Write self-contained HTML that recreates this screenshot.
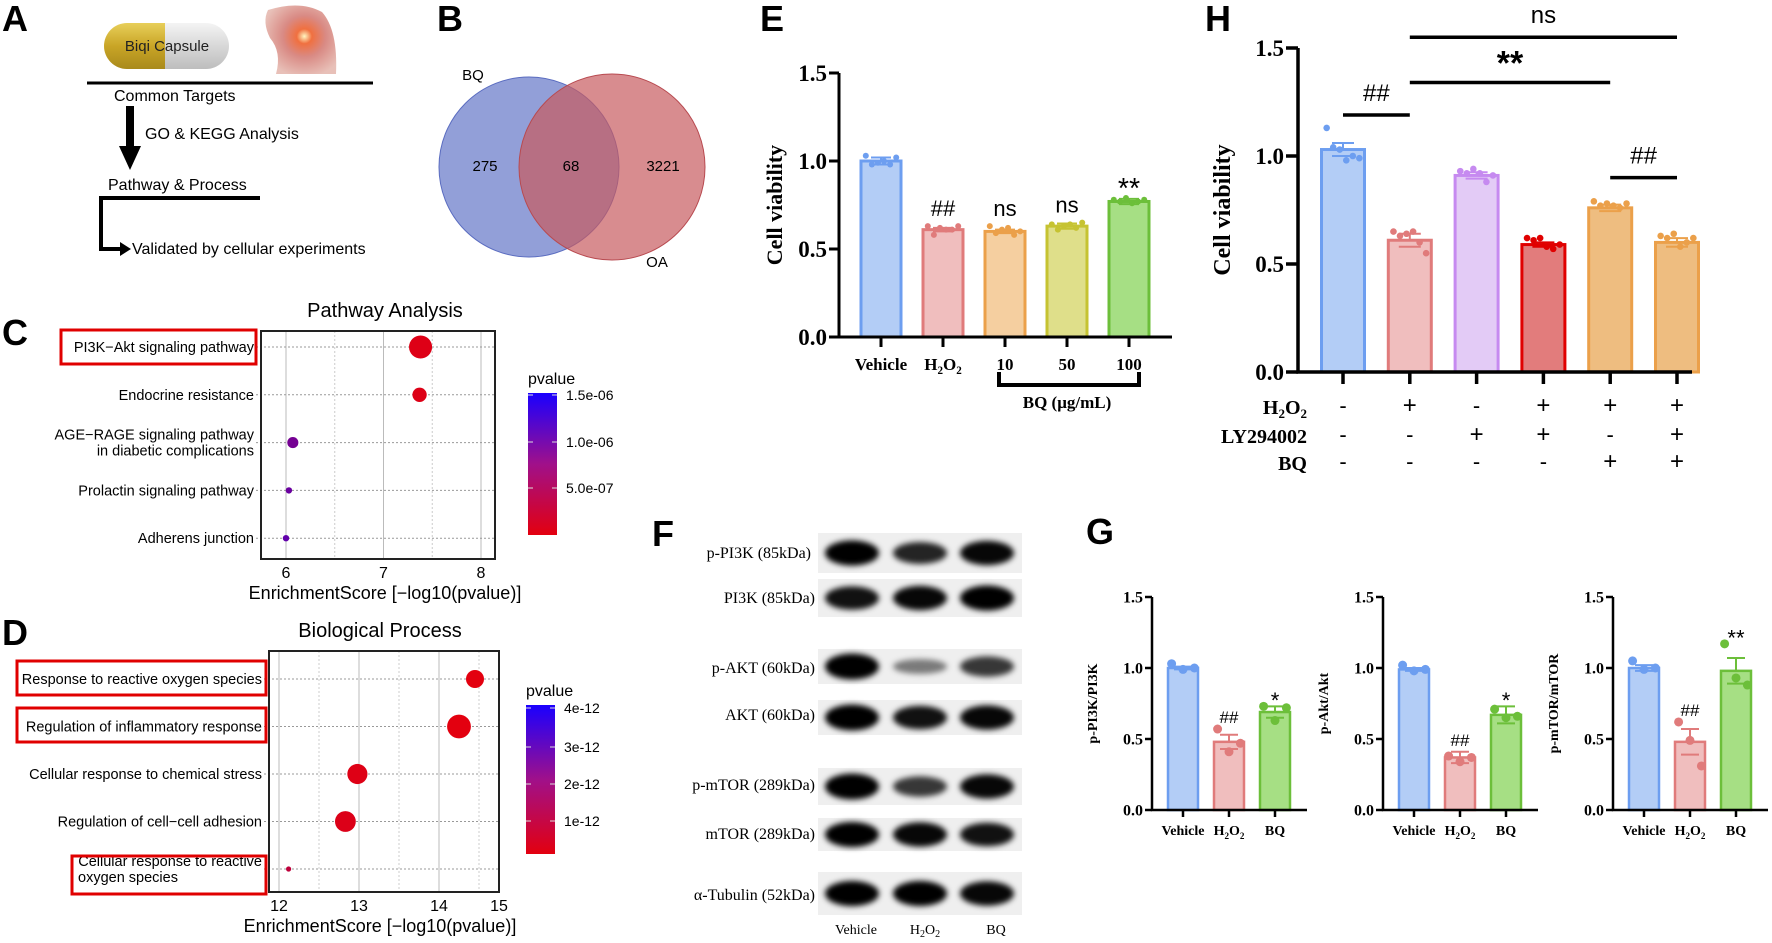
<!DOCTYPE html>
<html><head><meta charset="utf-8">
<style>
html,body{margin:0;padding:0;background:#fff;}
svg{display:block;}
.sans{font-family:"Liberation Sans",Arial,sans-serif;}
.serif{font-family:"Liberation Serif","Times New Roman",serif;}
.lbl{font-family:"Liberation Sans",Arial,sans-serif;font-weight:bold;font-size:36px;}
</style></head>
<body>
<svg id="fig" width="1772" height="943" viewBox="0 0 1772 943" xmlns="http://www.w3.org/2000/svg">
<defs>
<linearGradient id="gold" x1="0" y1="0" x2="0" y2="1"><stop offset="0" stop-color="#e8cf5a"/><stop offset="0.5" stop-color="#c9a526"/><stop offset="1" stop-color="#a98a1c"/></linearGradient>
<linearGradient id="silver" x1="0" y1="0" x2="0" y2="1"><stop offset="0" stop-color="#f4f4f4"/><stop offset="0.5" stop-color="#d8d8d8"/><stop offset="1" stop-color="#bdbdbd"/></linearGradient>
<radialGradient id="knee" cx="0.55" cy="0.45" r="0.6"><stop offset="0" stop-color="#fff6c0"/><stop offset="0.18" stop-color="#f07040"/><stop offset="0.5" stop-color="#d98a84"/><stop offset="1" stop-color="#e8c0b8"/></radialGradient>
<linearGradient id="pbar" x1="0" y1="0" x2="0" y2="1"><stop offset="0" stop-color="#1a00ff"/><stop offset="0.5" stop-color="#a0108a"/><stop offset="1" stop-color="#e3000f"/></linearGradient>
<filter id="blur" x="-20%" y="-60%" width="140%" height="220%"><feGaussianBlur stdDeviation="3"/></filter>
</defs>

<g>
<text class="lbl" x="2" y="31">A</text>
<g>
<path d="M127,23 H165 V69 H127 A23,23 0 0 1 127,23 Z" fill="url(#gold)"/>
<path d="M165,23 H206 A23,23 0 0 1 206,69 H165 Z" fill="url(#silver)"/>
<text class="sans" x="167" y="51" font-size="15" text-anchor="middle" fill="#222">Biqi Capsule</text>
</g>
<g>
<path d="M268,10 Q300,0 322,12 Q338,30 336,74 L276,74 Q282,52 270,38 Q262,22 268,10 Z" fill="url(#knee)"/>
</g>
<line x1="87" y1="83" x2="373" y2="83" stroke="#000" stroke-width="3"/>
<text class="sans" x="114" y="101" font-size="16">Common Targets</text>
<g>
<rect x="126" y="106" width="8" height="42" fill="#000"/>
<polygon points="119,146 141,146 130,170" fill="#000"/>
</g>
<text class="sans" x="145" y="139" font-size="16">GO &amp; KEGG Analysis</text>
<text class="sans" x="108" y="190" font-size="16">Pathway &amp; Process</text>
<g>
<polyline points="260,198 101,198 101,249 122,249" fill="none" stroke="#000" stroke-width="4"/>
<polygon points="120,242 131,249 120,256" fill="#000"/>
</g>
<text class="sans" x="132" y="254" font-size="16">Validated by cellular experiments</text>
</g>

<g>
<text class="lbl" x="437" y="31">B</text>
<circle cx="529" cy="167" r="90" fill="#6e7fcb" fill-opacity="0.75" stroke="#5a6cc0"/>
<circle cx="612" cy="167" r="93" fill="#c85b5f" fill-opacity="0.7" stroke="#b84a50"/>
<text class="sans" x="473" y="80" font-size="15" text-anchor="middle">BQ</text>
<text class="sans" x="657" y="267" font-size="15" text-anchor="middle">OA</text>
<text class="sans" x="485" y="171" font-size="15" text-anchor="middle">275</text>
<text class="sans" x="571" y="171" font-size="15" text-anchor="middle">68</text>
<text class="sans" x="663" y="171" font-size="15" text-anchor="middle">3221</text>
</g>

<text class="lbl" x="2" y="345">C</text>
<text class="lbl" x="2" y="645">D</text>
<text class="lbl" x="760" y="31">E</text>
<text class="lbl" x="652" y="546">F</text>
<text class="lbl" x="1086" y="544">G</text>
<text class="lbl" x="1205" y="31">H</text>

<g class="serif" font-size="16" text-anchor="end">
<text x="811" y="558">p-PI3K (85kDa)</text>
<text x="815" y="603">PI3K (85kDa)</text>
<text x="815" y="673">p-AKT (60kDa)</text>
<text x="815" y="720">AKT (60kDa)</text>
<text x="815" y="790">p-mTOR (289kDa)</text>
<text x="815" y="839">mTOR (289kDa)</text>
<text x="815" y="900">α-Tubulin (52kDa)</text>
</g>
<g id="blots"></g>
<g class="serif" font-size="14" text-anchor="middle">
<text x="856" y="934">Vehicle</text>
<text x="925" y="934">H<tspan font-size="10" dy="3">2</tspan><tspan dy="-3">O</tspan><tspan font-size="10" dy="3">2</tspan></text>
<text x="996" y="934">BQ</text>
</g>

<g id="dyn"></g>
</svg>

<script>
const cTerms = ["PI3K\u2212Akt signaling pathway","Endocrine resistance","AGE\u2212RAGE signaling pathway|in diabetic complications","Prolactin signaling pathway","Adherens junction"];
const cScores = [7.38, 7.37, 6.07, 6.03, 6.0];
const cCounts = [13, 5, 3, 1, 1];
const cPvals = [4.2e-8, 4.3e-8, 8.5e-7, 9.3e-7, 1.0e-6];
const cTicks = [6, 7, 8];
const cBarTicks = ["1.5e-06","1.0e-06","5.0e-07"];
const dTerms = ["Response to reactive oxygen species","Regulation of inflammatory response","Cellular response to chemical stress","Regulation of cell\u2212cell adhesion","Cellular response to reactive|oxygen species"];
const dScores = [14.45, 14.25, 12.98, 12.83, 12.12];
const dCounts = [12, 21, 15, 16, 1];
const dPvals = [3.5e-15, 5.6e-15, 1.0e-13, 1.5e-13, 7.6e-13];
const dTicks = [12, 13, 14, 15];
const dBarTicks = ["4e-12","3e-12","2e-12","1e-12"];
const eCats = ["Vehicle","H2O2","10","50","100"];
const eVals = [1.0, 0.61, 0.60, 0.63, 0.77];
const eErr = [0.02, 0.01, 0.01, 0.015, 0.015];
const ePts = [[1.03,0.98,0.99,1.0,0.98,1.02],[0.63,0.58,0.62,0.61,0.61,0.63],[0.63,0.59,0.61,0.62,0.58,0.60],[0.64,0.61,0.63,0.64,0.62,0.65],[0.78,0.77,0.79,0.76,0.77,0.78]];
const eSig = ["","##","ns","ns","**"];
const eTicks = [0.0, 0.5, 1.0, 1.5];
const hVals = [1.03, 0.61, 0.91, 0.59, 0.76, 0.60];
const hErr = [0.03, 0.03, 0.015, 0.01, 0.015, 0.02];
const hPts = [[1.13,1.04,1.03,0.98,1.0,0.99],[0.65,0.63,0.64,0.65,0.6,0.55],[0.93,0.92,0.94,0.92,0.88,0.91],[0.62,0.61,0.62,0.58,0.57,0.59],[0.79,0.77,0.78,0.77,0.76,0.78],[0.63,0.62,0.64,0.58,0.60,0.62]];
const hH2O2 = ["-","+","-","+","+","+"];
const hLY = ["-","-","+","+","-","+"];
const hBQ = ["-","-","-","-","+","+"];
const hTicks = [0.0, 0.5, 1.0, 1.5];
const gCats = ["Vehicle","H2O2","BQ"];
const g1Vals = [1.0, 0.48, 0.69];
const g1Err = [0.01, 0.05, 0.04];
const g2Vals = [0.99, 0.37, 0.67];
const g2Err = [0.01, 0.04, 0.06];
const g3Vals = [1.0, 0.48, 0.98];
const g3Err = [0.02, 0.09, 0.09];
const g1Pts = [[1.03,0.99,1.0],[0.57,0.41,0.47],[0.73,0.63,0.72]];
const g2Pts = [[1.02,0.98,0.99],[0.38,0.34,0.37],[0.71,0.65,0.66]];
const g3Pts = [[1.05,0.99,1.0],[0.62,0.49,0.31],[1.17,0.93,0.88]];
const gSig = [["","##","*"],["","##","*"],["","##","**"]];
const gTicks = [0.0, 0.5, 1.0, 1.5];
const fBands = [[0.95,0.75,0.9],[0.85,0.9,0.95],[1.0,0.3,0.65],[1.0,0.85,0.9],[1.0,0.65,0.9],[0.95,0.9,0.85],[0.95,0.95,0.9]];

const NS = "http://www.w3.org/2000/svg";
const root = document.getElementById("dyn");
function mk(tag, attrs, parent){ const e=document.createElementNS(NS,tag); for(const k in attrs) e.setAttribute(k,attrs[k]); (parent||root).appendChild(e); return e; }
function pcol(t){
  const r=Math.round(227*(1-t)+26*t), b=Math.round(15*(1-t)+255*t);
  return `rgb(${r},0,${b})`;
}
function h2o2(el, size){
  el.textContent="H";
  const s1=mk("tspan",{"font-size":size*0.65,dy:4},el); s1.textContent="2";
  const o=mk("tspan",{dy:-4},el); o.textContent="O";
  const s2=mk("tspan",{"font-size":size*0.65,dy:4},el); s2.textContent="2";
}

function dotPlot(cfg){
  const g=mk("g",{});
  
  
  const xs=v=>cfg.x0+(v-cfg.v0)*cfg.k;
  const bg=mk("rect",{x:cfg.L,y:cfg.T,width:cfg.R-cfg.L,height:cfg.B-cfg.T,fill:"#fff"},g);
  
  
  cfg.ticks.forEach((t,i)=>{
    const x=xs(t); if(x<=cfg.R){
      const gl=mk("line",{x1:x,y1:cfg.T,x2:x,y2:cfg.B,stroke:"#bbb","stroke-width":1},g);
       
    }
    const xm=xs(t+0.5); if(xm<cfg.R){ const m=mk("line",{x1:xm,y1:cfg.T,x2:xm,y2:cfg.B,stroke:"#ccc","stroke-width":1,"stroke-dasharray":"2,2"},g);   }
    const tl=mk("text",{x:Math.min(x,cfg.R),y:cfg.B+19,"font-size":16,"text-anchor":"middle",class:"sans"},g);
    tl.textContent=t;
     
  });
  cfg.terms.forEach((term,i)=>{
    const y=cfg.T+cfg.rowY0+i*cfg.rowH;
    const hl=mk("line",{x1:cfg.L-5,y1:y,x2:cfg.R,y2:y,stroke:"#999","stroke-width":1,"stroke-dasharray":"2,2"},g);
     
    const parts=term.split("|");
    parts.forEach((p,j)=>{
      const leftLine = (j>0 && cfg.wrapLeftX);
      const t=mk("text",{x:leftLine?cfg.wrapLeftX:cfg.L-7,y:y+5+(j-(parts.length-1)/2)*16,"font-size":cfg.fs,"text-anchor":leftLine?"start":"end",class:"sans"},g);
      t.textContent=p;
       
    });
    const pt=mk("circle",{cx:xs(cfg.scores[i]),cy:y,r:cfg.rk*Math.sqrt(cfg.counts[i]),fill:pcol(Math.min(1,cfg.pvals[i]/cfg.pmax))},g);
     
  });
  const fr=mk("rect",{x:cfg.L,y:cfg.T,width:cfg.R-cfg.L,height:cfg.B-cfg.T,fill:"none",stroke:"#222","stroke-width":2},g);
   
  const ti=mk("text",{x:cfg.titleX,y:cfg.T-14,"font-size":20,"text-anchor":"middle",class:"sans"},g);
  ti.textContent=cfg.title;  
  const xt=mk("text",{x:cfg.titleX,y:cfg.B+40,"font-size":18,"text-anchor":"middle",class:"sans"},g);
  xt.textContent="EnrichmentScore [\u2212log10(pvalue)]";  
  cfg.boxes.forEach(b=>{ const r=mk("rect",{x:b[0],y:b[1],width:b[2]-b[0],height:b[3]-b[1],fill:"none",stroke:"#e00000","stroke-width":3},g);   });
  const cb=mk("rect",{x:cfg.cb[0],y:cfg.cb[1],width:cfg.cb[2],height:cfg.cb[3],fill:"url(#pbar)"},g);
   
  const pv=mk("text",{x:cfg.cb[0],y:cfg.cb[1]-9,"font-size":16,class:"sans"},g);
  pv.textContent="pvalue";  
  cfg.cbTicks.forEach((t,i)=>{
    const y=cfg.cbY[i];
    mk("line",{x1:cfg.cb[0],y1:y,x2:cfg.cb[0]+5,y2:y,stroke:"#ddd"},g);
    mk("line",{x1:cfg.cb[0]+cfg.cb[2]-5,y1:y,x2:cfg.cb[0]+cfg.cb[2],y2:y,stroke:"#ddd"},g);
    const tt=mk("text",{x:cfg.cb[0]+cfg.cb[2]+9,y:y+5,"font-size":14,class:"sans"},g);
    tt.textContent=t;  
  });
}
dotPlot({name:"pathway-dot-plot",terms:cTerms,scores:cScores,counts:cCounts,pvals:cPvals,pmax:1.55e-6,ticks:cTicks,
  L:261,R:495,T:331,B:559,x0:286,v0:6,k:97.5,rowY0:16,rowH:47.8,rk:3.2,fs:14.5,title:"Pathway Analysis",titleX:385,
  boxes:[[61,330,256,364]],cb:[528,393,29,142],cbTicks:cBarTicks,cbY:[395,442,488]});
dotPlot({name:"biological-process-dot-plot",terms:dTerms,scores:dScores,counts:dCounts,pvals:dPvals,pmax:4.1e-12,ticks:dTicks,
  L:269,R:499,T:651,B:892,x0:279,v0:12,k:80,rowY0:28,rowH:47.5,rk:2.6,fs:14.5,title:"Biological Process",titleX:380,wrapLeftX:78,
  boxes:[[17,661,266,695],[17,708,266,742],[72,856,266,894]],cb:[526,705,29,149],cbTicks:dBarTicks,cbY:[708,747,784,821]});

const palE=[["#b3cdf6","#6d9ef0"],["#f0bebe","#e07b7b"],["#f5cfa0","#eba04a"],["#dfdf8a","#c6c332"],["#a6df84","#6cbf3a"]];
const palH=[["#b3cdf6","#6d9ef0"],["#f0bebe","#e07b7b"],["#e3cbf6","#c68af0"],["#e27c7c","#e00000"],["#eebd80","#eba04a"],["#eebd80","#eba04a"]];
const palG=[["#b3cdf6","#6d9ef0"],["#f0bebe","#e07b7b"],["#a6df84","#6cbf3a"]];

function barChart(c){
  const g=mk("g",{});
  
  
  const ys=v=>c.y0-v*c.k;
  c.vals.forEach((v,i)=>{
    const cx=c.ax+c.first+i*c.step;
    const b=mk("rect",{x:cx-c.bw/2,y:ys(v),width:c.bw,height:ys(0)-ys(v),fill:c.pal[i][0],stroke:c.pal[i][1],"stroke-width":c.sw},g);
     
    const e=c.err[i];
    const eb=mk("path",{d:`M${cx},${ys(v)} V${ys(v+e)} M${cx-c.cap},${ys(v+e)} H${cx+c.cap} M${cx-c.cap},${ys(v-e)} H${cx+c.cap}`,stroke:c.pal[i][1],"stroke-width":2,fill:"none"},g);
     
    const pts=c.pts[i]; const n=pts.length;
    pts.forEach((p,j)=>{
      const px=cx-c.bw*0.38+(n>1? j*(c.bw*0.76)/(n-1):0);
      const d=mk("circle",{cx:px,cy:ys(p),r:c.pr,fill:c.pal[i][1]},g);
       
    });
    const tk=mk("line",{x1:cx,y1:ys(0),x2:cx,y2:ys(0)+c.tl,stroke:"#000","stroke-width":c.aw},g);
     
    if(c.cats){
      const t=mk("text",{x:cx,y:ys(0)+c.catDy,"font-size":c.cfs,"font-weight":"bold","text-anchor":"middle",class:"serif"},g);
      if(c.cats[i]==="H2O2") h2o2(t,c.cfs); else t.textContent=c.cats[i];
       
    }
    if(c.sig && c.sig[i]){
      const st=c.sig[i].indexOf("*")>=0;
      const t=mk("text",{x:cx,y:ys(Math.max(v+e,Math.max(...pts)))-c.sigGap+(st?c.sfs*0.45:0),"font-size":st?c.sfs*1.3:c.sfs,"text-anchor":"middle",class:"sans"},g);
      t.textContent=c.sig[i];
       
    }
  });
  const ax=mk("path",{d:`M${c.ax},${ys(c.ticks[c.ticks.length-1])} V${ys(0)} H${c.xEnd}`,stroke:"#000","stroke-width":c.aw,fill:"none"},g);
   
  c.ticks.forEach(t=>{
    mk("line",{x1:c.ax-c.tl,y1:ys(t),x2:c.ax,y2:ys(t),stroke:"#000","stroke-width":c.aw},g);
    const tt=mk("text",{x:c.ax-c.tl-2,y:ys(t)+c.tfs*0.35,"font-size":c.tfs,"font-weight":"bold","text-anchor":"end",class:"serif"},g);
    tt.textContent=t.toFixed(1);  
  });
  const my=(ys(0)+ys(c.ticks[c.ticks.length-1]))/2;
  const yt=mk("text",{x:c.ax-c.ytDx,y:my,"font-size":c.ytfs,"font-weight":"bold","text-anchor":"middle",class:"serif",transform:`rotate(-90 ${c.ax-c.ytDx} ${my})`},g);
  yt.textContent=c.ytitle;  
  return {g,ys};
}

const E=barChart({name:"cell-viability-dose-chart",vals:eVals,err:eErr,pts:ePts,pal:palE,cats:eCats,sig:eSig,ticks:eTicks,
  ax:839,y0:337,k:176,first:42,step:62,bw:40,sw:3,cap:10,pr:3,tl:10,aw:3,catDy:33,cfs:17,sfs:22,sigGap:10,tfs:23,
  xEnd:1172,ytitle:"Cell viability",ytDx:57,ytfs:22});
(function(){
  const br=mk("path",{d:"M999,372 V385 H1139 V372",stroke:"#000","stroke-width":4,fill:"none"});
   
  const t=mk("text",{x:1067,y:408,"font-size":17,"font-weight":"bold","text-anchor":"middle",class:"serif"});
  t.textContent="BQ (\u03bcg/mL)";  
})();

const H=barChart({name:"cell-viability-inhibitor-chart",vals:hVals,err:hErr,pts:hPts,pal:palH,cats:null,sig:null,ticks:hTicks,
  ax:1298,y0:372,k:216,first:45,step:66.8,bw:43,sw:3,cap:11,pr:3.3,tl:12,aw:3.5,catDy:0,cfs:17,sfs:22,sigGap:10,tfs:23,
  xEnd:1692,ytitle:"Cell viability",ytDx:68,ytfs:24});
(function(){
  const rows=[["H2O2",hH2O2,414],["LY294002",hLY,443],["BQ",hBQ,470]];
  rows.forEach(r=>{
    const t=mk("text",{x:1307,y:r[2],"font-size":20,"font-weight":"bold","text-anchor":"end",class:"serif"});
    if(r[0]==="H2O2") h2o2(t,20); else t.textContent=r[0];
     
    r[1].forEach((s,i)=>{
      const cx=1298+45+i*66.8;
      const st=mk("text",{x:cx,y:r[2]-1,"font-size":s==="+"?24:22,"text-anchor":"middle",class:"sans"});
      st.textContent=s;  
    });
  });
  const cx=i=>1298+45+i*66.8;
  const sig=[[0,1,1.19,"##"],[1,4,1.34,"**"],[1,5,1.55,"ns"],[4,5,0.9,"##"]];
  sig.forEach(s=>{
    const y=H.ys(s[2]);
    const l=mk("line",{x1:cx(s[0]),y1:y,x2:cx(s[1]),y2:y,stroke:"#000","stroke-width":3.5});
     
    const st=s[3]==="**";
    const t=mk("text",{x:(cx(s[0])+cx(s[1]))/2,y:st?y-8:y-14,"font-size":st?34:24,"text-anchor":"middle",class:"sans","font-weight":st?"bold":"normal"});
    t.textContent=s[3];  
  });
})();

const gSets=[[g1Vals,g1Err,g1Pts,1152,"p-PI3K/PI3K"],[g2Vals,g2Err,g2Pts,1383,"p-Akt/Akt"],[g3Vals,g3Err,g3Pts,1613,"p-mTOR/mTOR"]];
gSets.forEach((s,k)=>{
  barChart({name:"ratio-chart-"+s[4].toLowerCase().replace("/","-"),vals:s[0],err:s[1],pts:s[2],pal:palG,cats:gCats,sig:gSig[k],ticks:gTicks,
    ax:s[3],y0:810,k:142,first:31,step:46,bw:30,sw:2.5,cap:9,pr:4.5,tl:7,aw:2.5,catDy:25,cfs:14,sfs:17,sigGap:6,tfs:16,
    xEnd:s[3]+155,ytitle:s[4],ytDx:55,ytfs:14});
});

(function(){
  const bl=document.getElementById("blots");
  const rows=[[533,573],[579,617],[649,684],[700,735],[768,805],[818,851],[872,915]];
  const lanes=[852,920,987];
  rows.forEach((r,i)=>{
    const strip=mk("rect",{x:818,y:r[0],width:204,height:r[1]-r[0],fill:"#efefef"},bl);
     
    lanes.forEach((lx,j)=>{
      const inten=fBands[i][j];
      const cy=(r[0]+r[1])/2;
      const b=mk("ellipse",{cx:lx,cy:cy,rx:27,ry:5+8*inten,fill:"#000","fill-opacity":Math.min(1,0.25+inten*0.8),filter:"url(#blur)"},bl);
       
    });
  });
})();
</script>
</body></html>
